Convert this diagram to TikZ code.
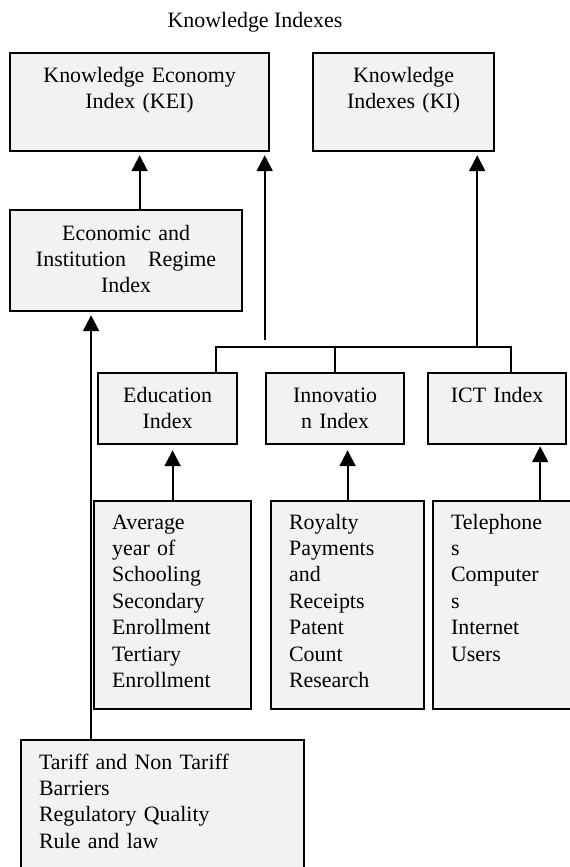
\documentclass[tikz,border=0pt]{standalone}
\usepackage{fontspec}
\setmainfont{Liberation Serif}
\usetikzlibrary{positioning, arrows.meta}

\definecolor{boxfill}{HTML}{F2F2F2}

\tikzset{
    box/.style={draw, line width=2.2bp, fill=boxfill, anchor=north west, inner ysep=0pt},
    head/.style={box, inner xsep=0pt, align=center, text height=29bp},
    list/.style={box, inner xsep=18bp, align=left, text height=28bp},
    up/.style={-{Triangle[width=16bp, length=16bp]}, line width=2bp, shorten >=3bp},
    link/.style={line width=2bp}
}

\begin{document}
\begin{tikzpicture}[x=1bp, y=-1bp, font=\fontsize{22}{26.5}\selectfont]
    \useasboundingbox (0,0) rectangle (570,867);

    % Title
    \node (title) at (255,22) {Knowledge Indexes};

    % Index boxes
    \node[head, text width=259bp, text depth=69bp] (kei) at (9,52) {Knowledge Economy\\Index (KEI)};
    \node[head, text width=181bp, text depth=69bp] (ki) at (312,52) {Knowledge\\Indexes (KI)};
    \node[head, text width=232bp, text height=30bp, text depth=71bp] (econ) at (9,209) {Economic and\\Institution\quad Regime\\Index};
    \node[head, text width=139bp, text depth=42bp] (edu) at (97,372) {Education\\Index};
    \node[head, text width=138bp, text depth=42bp] (inno) at (265,372) {Innovatio\\n Index};
    \node[head, text width=138bp, text depth=42bp] (ict) at (427,372) {ICT Index};

    % Indicator lists
    \node[list, text width=121bp, text depth=180bp] (eduitems) at (93,500) {Average\\year of\\Schooling\\Secondary\\Enrollment\\Tertiary\\Enrollment};
    \node[list, text width=117bp, text depth=180bp] (innoitems) at (270,500) {Royalty\\Payments\\and\\Receipts\\Patent\\Count\\Research};
    \node[list, text width=104bp, text depth=180bp] (ictitems) at (432,500) {Telephone\\s\\Computer\\s\\Internet\\Users};
    \node[list, text width=247bp, text height=29bp, text depth=111bp] (tariff) at (20,739) {Tariff and Non Tariff\\Barriers\\Regulatory Quality\\Rule and law};

    % Bracket over the three sub-indexes
    \coordinate (bar) at (0,347);
    \coordinate (stub) at (0,340);
    \coordinate (edudrop) at ([xshift=48bp]edu.north);
    \coordinate (ictdrop) at ([xshift=14bp]ict.north);
    \draw[link] (edudrop) -- (edudrop |- bar) -- (ictdrop |- bar) -- (ictdrop);
    \draw[link] (inno.north) -- (inno.north |- bar);

    % Arrows
    \coordinate (kein) at ([xshift=-5.5bp]kei.south east);
    \coordinate (kiin) at ([xshift=-18bp]ki.south east);
    \coordinate (ictin) at ([xshift=-27bp]ict.south east);
    \coordinate (econin) at ([xshift=-35bp]econ.south);

    \draw[up] (kei.south |- econ.north) -- (kei.south);
    \draw[up] (kein |- stub) -- (kein);
    \draw[up] (kiin |- bar) -- (kiin);
    \draw[up] (econin |- tariff.north) -- (econin);

    \foreach \a/\b in {edu/eduitems, inno/innoitems}
    \draw[up, shorten >=5bp] (\b.north) -- (\b.north |- \a.south);
    \draw[up, shorten >=1bp] (ictin |- ictitems.north) -- (ictin);

\end{tikzpicture}
\end{document}
